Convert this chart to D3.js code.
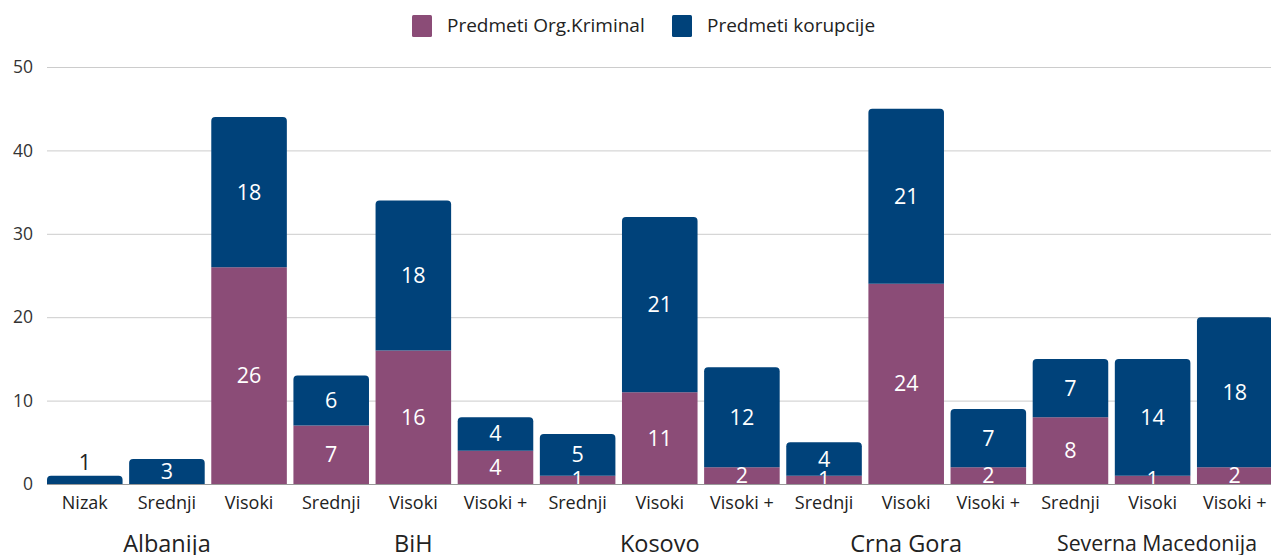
<!DOCTYPE html>
<html>
<head>
<meta charset="utf-8">
<script src="https://cdn.jsdelivr.net/npm/d3@7"></script>
<style>
  html, body { margin: 0; padding: 0; background: #fff; }
  svg { display: block; font-family: "Open Sans", "Noto Sans", sans-serif; }
</style>
</head>
<body>
<svg id="chart" width="1271" height="555"></svg>
<script>
const groups = ["Albanija", "BiH", "Kosovo", "Crna Gora", "Severna Macedonija"];
const levels = ["Nizak", "Srednji", "Visoki", "Srednji", "Visoki", "Visoki +", "Srednji", "Visoki", "Visoki +", "Srednji", "Visoki", "Visoki +", "Srednji", "Visoki", "Visoki +"];
const groupIndex = [0, 0, 0, 1, 1, 1, 2, 2, 2, 3, 3, 3, 4, 4, 4];
const orgKriminal = [0, 0, 26, 7, 16, 4, 1, 11, 2, 1, 24, 2, 8, 1, 2];
const korupcija = [1, 3, 18, 6, 18, 4, 5, 21, 12, 4, 21, 7, 7, 14, 18];
const seriesNames = ["Predmeti Org.Kriminal", "Predmeti korupcije"];
const yTicks = [0, 10, 20, 30, 40, 50];

const colors = ["#8b4c77", "#00427a"];
const svg = d3.select("#chart");
const W = 1271, H = 555;
const plotLeft = 47, plotRight = 1271, y0 = 484, yTop = 67;

const ids = levels.map((d, i) => i);
const step = 82.14;
const x = d3.scaleBand().domain(ids)
  .range([47 - 0.04 * step, 47 - 0.04 * step + 15 * step])
  .paddingInner(0.08).paddingOuter(0.04);
const y = d3.scaleLinear().domain([0, 50]).range([y0, yTop]);

// grid
svg.append("g").selectAll("line").data(yTicks.filter(t => t > 0)).join("line")
  .attr("x1", plotLeft).attr("x2", plotRight)
  .attr("y1", d => y(d) + 0.5).attr("y2", d => y(d) + 0.5)
  .attr("stroke", "#cccccc").attr("stroke-width", 1);

// y axis labels
const yAxis = d3.axisLeft(y).tickValues(yTicks).tickSize(0).tickPadding(0);
const yg = svg.append("g").attr("transform", `translate(33,0)`).call(yAxis);
yg.select(".domain").remove();
yg.selectAll("text").attr("font-size", 17.5).attr("fill", "#333")
  .attr("font-family", "'Open Sans', sans-serif");

svg.append("clipPath").attr("id", "plotclip").append("rect")
  .attr("x", 0).attr("y", 0).attr("width", W).attr("height", y0);

const stackData = ids.map(i => ({ i, org: orgKriminal[i], kor: korupcija[i] }));
const stack = d3.stack().keys(["org", "kor"])(stackData);

const r = 4;
function segPath(x0, w, yb, yt, rounded) {
  if (!rounded) return `M${x0},${yb}V${yt}H${x0 + w}V${yb}Z`;
  const rr = Math.min(r, (yb - yt));
  return `M${x0},${yb}V${yt + rr}Q${x0},${yt} ${x0 + rr},${yt}H${x0 + w - rr}Q${x0 + w},${yt} ${x0 + w},${yt + rr}V${yb}Z`;
}

const barsG = svg.append("g");
stack.forEach((layer, si) => {
  barsG.append("g").selectAll("path").data(layer.filter(d => d[1] > d[0])).join("path")
    .attr("fill", colors[si])
    .attr("d", d => {
      const i = d.data.i;
      const isTop = si === 1 || korupcija[i] === 0;
      return segPath(x(i), x.bandwidth(), y(d[0]), y(d[1]), isTop);
    });
});

// axis baseline
svg.append("line").attr("x1", plotLeft).attr("x2", plotRight)
  .attr("y1", y0 + 0.5).attr("y2", y0 + 0.5).attr("stroke", "#999").attr("stroke-width", 1.2);

// value labels
const labG = svg.append("g").attr("clip-path", "url(#plotclip)");
stack.forEach((layer, si) => {
  layer.filter(d => d[1] > d[0]).forEach(d => {
    const i = d.data.i;
    const v = d[1] - d[0];
    const yb = y(d[0]), yt = y(d[1]);
    const small = (yb - yt) < 12 && si === 1;
    labG.append("text")
      .attr("x", x(i) + x.bandwidth() / 2)
      .attr("y", small ? yt - 13 : (yb + yt) / 2)
      .attr("dy", "0.35em")
      .attr("text-anchor", "middle")
      .attr("font-size", 21.5)
      .attr("fill", small ? "#222" : "#fff")
      .text(v);
  });
});

// x sub labels
svg.append("g").selectAll("text").data(ids).join("text")
  .attr("x", i => x(i) + x.bandwidth() / 2)
  .attr("y", 503).attr("dy", "0.35em")
  .attr("text-anchor", "middle").attr("font-size", 18).attr("fill", "#222")
  .text(i => levels[i]);

// group labels
const last = groups.length - 1;
svg.append("g").selectAll("text").data(groups).join("text")
  .attr("x", (g, gi) => {
    if (gi === last) return 1257;
    const members = ids.filter(i => groupIndex[i] === gi);
    const a = x(members[0]), b = x(members[members.length - 1]) + x.bandwidth();
    return (a + b) / 2;
  })
  .attr("y", 544).attr("dy", "0.35em")
  .attr("text-anchor", (g, gi) => gi === last ? "end" : "middle")
  .attr("font-size", (g, gi) => gi === last ? 21.3 : 23.5).attr("fill", "#222")
  .text(g => g);

// legend
const legendX = [412, 672];
const lg = svg.append("g");
seriesNames.forEach((s, si) => {
  lg.append("rect").attr("x", legendX[si]).attr("y", 15).attr("width", 20).attr("height", 22)
    .attr("rx", 1.5).attr("fill", colors[si]);
  lg.append("text").attr("x", legendX[si] + 35).attr("y", 25).attr("dy", "0.35em")
    .attr("font-size", 19).attr("fill", "#222").text(s);
});
</script>
</body>
</html>
